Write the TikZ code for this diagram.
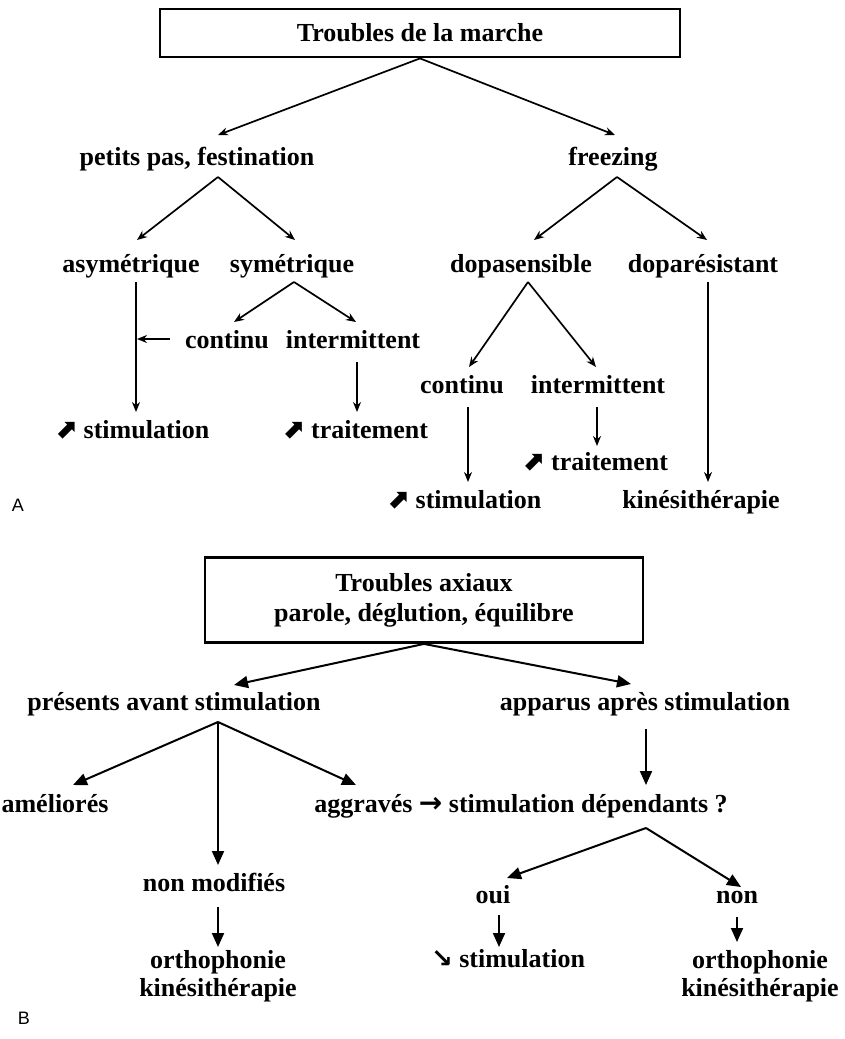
\documentclass[tikz,border=0pt]{standalone}
\usepackage{fontspec}
\setmainfont{Liberation Serif}
\newfontfamily\arrowfont{DejaVu Sans}
\newfontfamily\panelfont{Liberation Sans}
\usepackage{tikz}
\usetikzlibrary{arrows.meta,calc}

\begin{document}
\begin{tikzpicture}[
    x=0.5pt, y=-0.5pt,
    txt/.style={
        font=\fontsize{13}{14}\selectfont\bfseries, inner sep=0pt, align=center
    },
    one/.style={txt, text height=8.8pt, text depth=2.9pt},
    tbox/.style={
        txt, draw, line width=1.4pt, minimum width=260pt
    },
    arrA/.style={-{Stealth[length=5pt,width=4pt]}, line width=0.85pt},
    arrB/.style={-{Triangle[length=7pt,width=6pt]}, line width=1pt},
    panel/.style={font=\panelfont\fontsize{9}{9}\selectfont, inner sep=0pt}
]
\newcommand{\upicon}{{\arrowfont\fontsize{13.5}{13.5}\selectfont ⬈}}
\newcommand{\downicon}{{\arrowfont\fontsize{13}{13}\selectfont ↘}}
\newcommand{\toicon}{{\arrowfont\fontsize{14}{14}\selectfont →}}

\useasboundingbox (0,0) rectangle (845,1039);

% Panel A: gait disorders
\node[tbox, minimum height=24pt] (titleA) at (420,33) {Troubles de la marche};

\node[one] (petits)   at (197,160) {petits pas, festination};
\node[one] (freezing) at (613,160) {freezing};

\node[one] (asym)     at (131,267) {asymétrique};
\node[one] (sym)      at (292,267) {symétrique};
\node[one] (dopasens) at (521,267) {dopasensible};
\node[one] (dopares)  at (703,267) {doparésistant};

\node[one] (contA)  at (227,343) {continu};
\node[one] (interA) at (353,343) {intermittent};
\node[one] (contB)  at (462,388) {continu};
\node[one] (interB) at (598,388) {intermittent};

\node[one] (stimA)  at (132,433) {\upicon\ stimulation};
\node[one] (traitA) at (355,433) {\upicon\ traitement};
\node[one] (traitB) at (595,465) {\upicon\ traitement};
\node[one] (stimB)  at (464,503) {\upicon\ stimulation};
\node[one] (kineA)  at (701,503) {kinésithérapie};

\node[panel] (labA) at (18,505) {A};

\draw[arrA] (titleA.south) -- ($(petits)+(21,-25)$);
\draw[arrA] (titleA.south) -- ($(freezing)+(2,-25)$);
\draw[arrA] ($(petits)+(21,17)$) -- ($(asym)+(6,-27)$);
\draw[arrA] ($(petits)+(21,17)$) -- ($(sym)+(3,-27)$);
\draw[arrA] ($(freezing)+(4,17)$) -- ($(dopasens)+(13,-27)$);
\draw[arrA] ($(freezing)+(4,17)$) -- ($(dopares)+(4,-27)$);

\draw[arrA] ($(asym)+(5,15)$) -- ($(stimA)+(4,-21)$);
\draw[arrA] ($(contA.west)+(-15,-4)$) -- ($(asym)+(6,72)$);
\draw[arrA] ($(sym)+(2,15)$) -- ($(contA)+(7,-21)$);
\draw[arrA] ($(sym)+(2,15)$) -- ($(interA)+(3,-21)$);
\draw[arrA] ($(interA)+(4,19)$) -- ($(traitA)+(2,-21)$);

\draw[arrA] ($(dopasens)+(7,15)$) -- ($(contB)+(7,-21)$);
\draw[arrA] ($(dopasens)+(7,15)$) -- ($(interB)+(-2,-21)$);
\draw[arrA] ($(contB)+(6,19)$) -- ($(stimB)+(4,-21)$);
\draw[arrA] ($(interB)+(-1,19)$) -- ($(traitB)+(2,-19)$);
\draw[arrA] ($(dopares)+(5,15)$) -- ($(kineA)+(7,-21)$);

% Panel B: axial disorders
\node[tbox, minimum width=219pt, minimum height=42.5pt] (titleB) at (424,600)
    {Troubles axiaux\\[1pt]parole, déglution, équilibre};

\node[one] (presents) at (174,705) {présents avant stimulation};
\node[one] (apparus)  at (645,705) {apparus après stimulation};

\node[one] (ameliores) at (55,807)  {améliorés};
\node[one] (aggr)      at (521,807) {aggravés \toicon\ stimulation dépendants ?};
\node[one] (nonmod)    at (214,886) {non modifiés};
\node[one] (oui)       at (493,898) {oui};
\node[one] (non)       at (737,898) {non};

\node[txt] (orthoL) at (218,976) {orthophonie\\kinésithérapie};
\node[one] (stimC)  at (508,962) {\downicon\ stimulation};
\node[txt] (orthoR) at (760,976) {orthophonie\\kinésithérapie};

\node[panel] (labB) at (24,1018) {B};

\draw[arrB] (titleB.south) -- ($(presents)+(60,-20)$);
\draw[arrB] (titleB.south) -- ($(apparus)+(-14,-21)$);
\draw[arrB] ($(presents)+(44,17)$) -- ($(ameliores)+(18,-22)$);
\draw[arrB] ($(presents)+(44,17)$) -- ($(nonmod)+(4,-21)$);
\draw[arrB] ($(presents)+(44,17)$) -- ($(aggr)+(-165,-22)$);
\draw[arrB] ($(apparus)+(1,24)$) -- ($(aggr)+(125,-22)$);
\draw[arrB] ($(aggr)+(125,21)$) -- ($(oui)+(14,-20)$);
\draw[arrB] ($(aggr)+(125,21)$) -- ($(non)+(4,-11)$);
\draw[arrB] ($(nonmod)+(4,21)$) -- ($(orthoL)+(0,-29)$);
\draw[arrB] ($(oui)+(6,17)$) -- ($(stimC)+(-9,-15)$);
\draw[arrB] ($(non)+(0,19)$) -- ($(orthoR)+(-23,-34)$);

\end{tikzpicture}
\end{document}
